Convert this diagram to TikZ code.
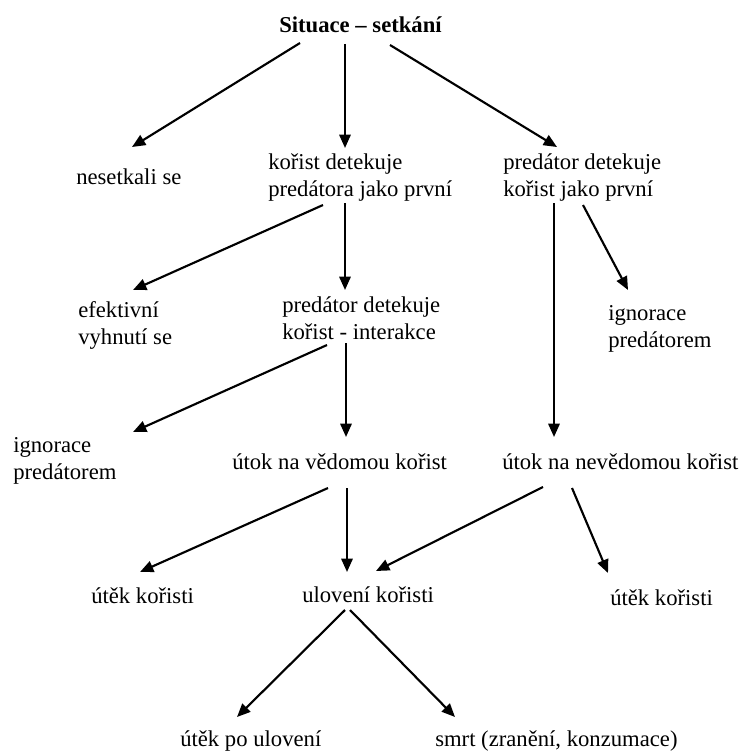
\documentclass[tikz,border=0pt]{standalone}
\usepackage{fontspec}
\setmainfont{Liberation Serif}
\usetikzlibrary{arrows.meta,calc}

\begin{document}
\begin{tikzpicture}[x=0.75pt,y=-0.75pt,
    lbl/.style={anchor=west,align=left,font=\fontsize{17}{20.25}\selectfont},
    arr/.style={line width=1.6pt,-{Triangle[length=10pt,width=8.5pt]}}]
    \tikzstyle{every node}+=[inner sep=0pt]
    \useasboundingbox (0,0) rectangle (750,756);
    % labels
    \node [lbl,font=\fontsize{17}{20.25}\selectfont\bfseries] (sit) at (279,25) {Situace – setkání};
    \node [lbl] (nes) at (76,177) {nesetkali se};
    \node [lbl] (kdp) at (268,178) {kořist detekuje\\predátora jako první};
    \node [lbl] (pdk) at (503,178) {predátor detekuje\\kořist jako první};
    \node [lbl] (efv) at (78,325) {efektivní\\vyhnutí se};
    \node [lbl] (pdi) at (282,318) {predátor detekuje\\kořist - interakce};
    \node [lbl] (igr) at (608,329) {ignorace\\predátorem};
    \node [lbl] (igl) at (13,461) {ignorace\\predátorem};
    \node [lbl] (uvk) at (232,462) {útok na vědomou kořist};
    \node [lbl] (unk) at (502,462) {útok na nevědomou kořist};
    \node [lbl] (utl) at (91,596) {útěk kořisti};
    \node [lbl] (ulk) at (302,595) {ulovení kořisti};
    \node [lbl] (utr) at (610,598) {útěk kořisti};
    \node [lbl] (upu) at (180,741) {útěk po ulovení};
    \node [lbl] (smrt) at (435,741) {smrt (zranění, konzumace)};
    % arrows
    \draw [arr] ($(sit.west)+(21,18)$) -- ($(nes.west)+(56,-30)$);
    \draw [arr] ($(sit.west)+(66,19)$) -- ($(kdp.west)+(77,-30)$);
    \draw [arr] ($(sit.west)+(111,20)$) -- ($(pdk.west)+(54,-31)$);
    \draw [arr] ($(kdp.west)+(55,27)$) -- ($(efv.west)+(55,-35)$);
    \draw [arr] ($(kdp.west)+(77,25)$) -- ($(pdi.west)+(63,-28)$);
    \draw [arr] ($(pdk.west)+(51,25)$) -- ($(unk.west)+(52,-25)$);
    \draw [arr] ($(pdk.west)+(80,27)$) -- ($(igr.west)+(20,-39)$);
    \draw [arr] ($(pdi.west)+(45,27)$) -- ($(igl.west)+(120,-29)$);
    \draw [arr] ($(pdi.west)+(64,25)$) -- ($(uvk.west)+(114,-25)$);
    \draw [arr] ($(uvk.west)+(96,26)$) -- ($(utl.west)+(49,-24)$);
    \draw [arr] ($(uvk.west)+(115,26)$) -- ($(ulk.west)+(45,-23)$);
    \draw [arr] ($(unk.west)+(41,25)$) -- ($(ulk.west)+(74,-24)$);
    \draw [arr] ($(unk.west)+(70,26)$) -- ($(utr.west)+(-2,-25)$);
    \draw [arr] ($(ulk.west)+(43,15)$) -- ($(upu.west)+(57,-24)$);
    \draw [arr] ($(ulk.west)+(48,15)$) -- ($(smrt.west)+(20,-24)$);
\end{tikzpicture}
\end{document}
